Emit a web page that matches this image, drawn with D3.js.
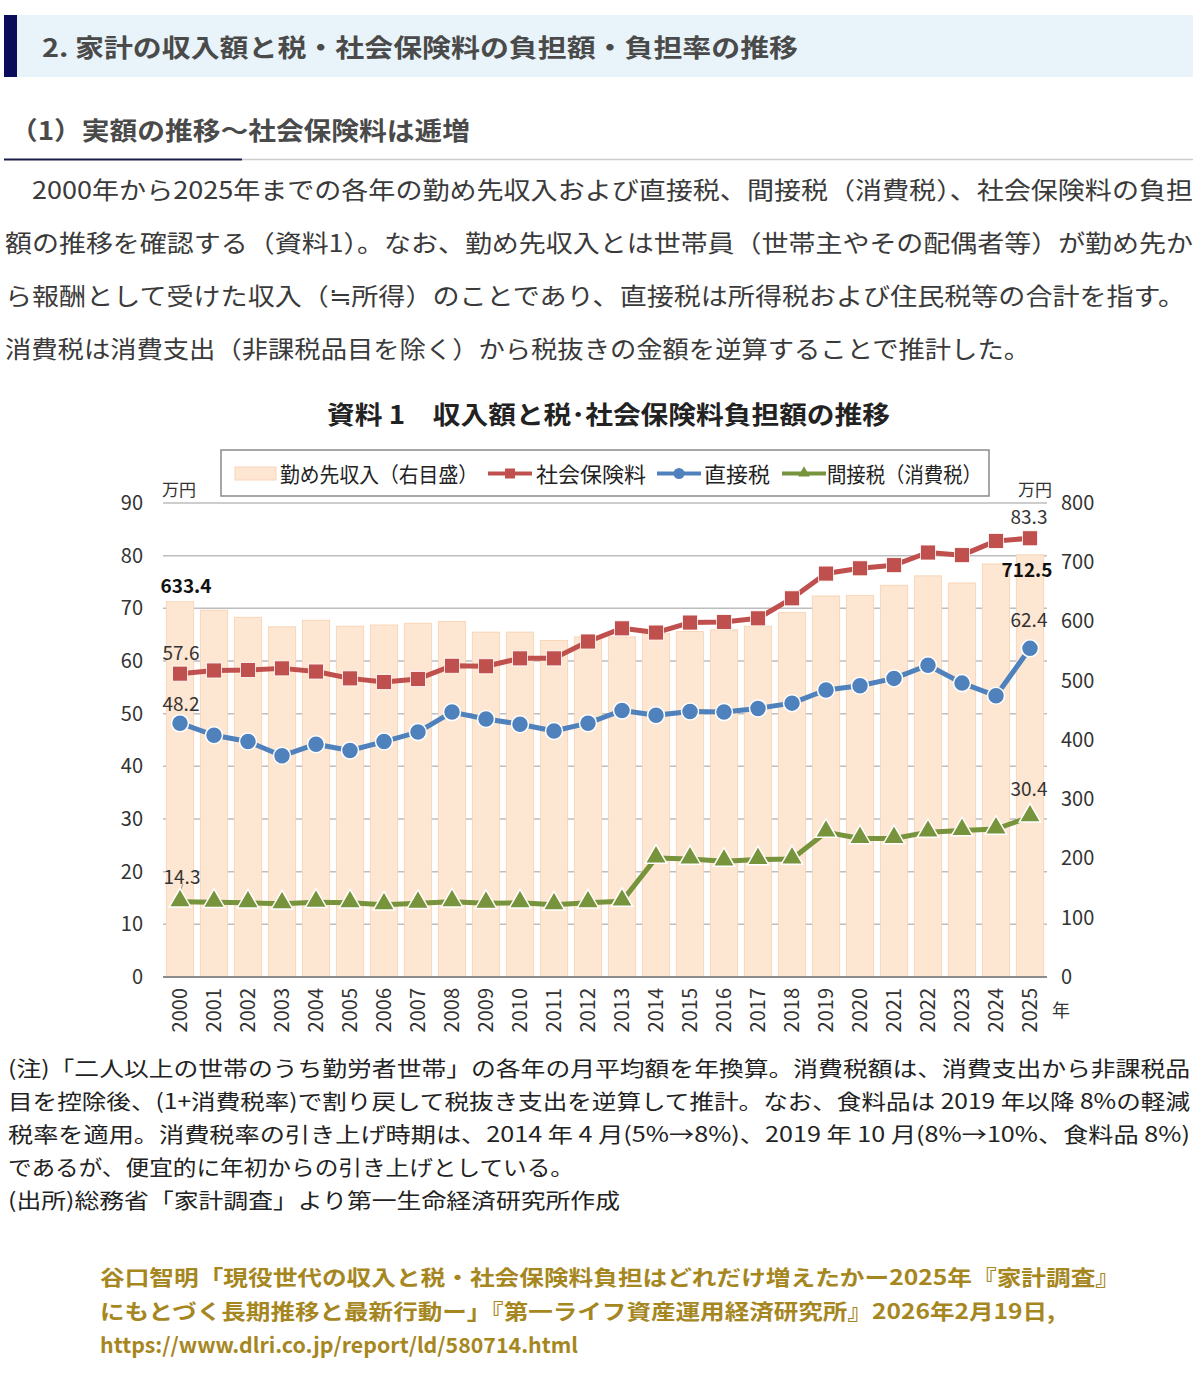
<!DOCTYPE html>
<html>
<head>
<meta charset="utf-8">
<script src="https://cdn.jsdelivr.net/npm/d3@7"></script>
<style>
  body { margin: 0; background: #fff; }
  svg { display: block; }
  text { font-family: "Noto Sans CJK JP", "Noto Sans", sans-serif; }
</style>
</head>
<body>
<div id="svg-container" style="width:1200px;height:1388px;"></div>
<script>
// 年
var years = [2000,2001,2002,2003,2004,2005,2006,2007,2008,2009,2010,2011,2012,
             2013,2014,2015,2016,2017,2018,2019,2020,2021,2022,2023,2024,2025];
// 勤め先収入（右目盛, 万円）
var income = [633.4,619,607,591,602,592,594,597,600,582,582,568,574,
              574,580,583,586,592,615,643,644,661,677,665,697,712.5];
// 社会保険料（万円）
var social = [57.6,58.2,58.3,58.6,58.0,56.7,56.0,56.6,59.1,59.0,60.5,60.5,63.7,
              66.2,65.4,67.3,67.4,68.1,71.9,76.6,77.6,78.2,80.6,80.1,82.8,83.3];
// 直接税（万円）
var direct = [48.2,45.9,44.7,42.0,44.2,43.0,44.7,46.5,50.3,49.0,48.0,46.7,48.2,
              50.6,49.7,50.4,50.3,51.0,52.0,54.5,55.3,56.7,59.2,55.8,53.4,62.4];
// 間接税（消費税, 万円）
var indirect = [14.3,14.2,14.1,13.9,14.2,14.1,13.7,14.0,14.3,14.0,14.1,13.7,14.1,
                14.4,22.6,22.4,22.0,22.3,22.4,27.5,26.3,26.3,27.5,27.8,28.1,30.4];

var leftTicks = [0,10,20,30,40,50,60,70,80,90];
var rightTicks = [0,100,200,300,400,500,600,700,800];

var bodyLines = [
  "\u30002000年から2025年までの各年の勤め先収入および直接税、間接税（消費税）、社会保険料の負担",
  "額の推移を確認する（資料1）。なお、勤め先収入とは世帯員（世帯主やその配偶者等）が勤め先か",
  "ら報酬として受けた収入（≒所得）のことであり、直接税は所得税および住民税等の合計を指す。",
  "消費税は消費支出（非課税品目を除く）から税抜きの金額を逆算することで推計した。"
];
var noteLines = [
  "(注)「二人以上の世帯のうち勤労者世帯」の各年の月平均額を年換算。消費税額は、消費支出から非課税品",
  "目を控除後、(1+消費税率)で割り戻して税抜き支出を逆算して推計。なお、食料品は 2019 年以降 8%の軽減",
  "税率を適用。消費税率の引き上げ時期は、2014 年 4 月(5%→8%)、2019 年 10 月(8%→10%、食料品 8%)",
  "であるが、便宜的に年初からの引き上げとしている。",
  "(出所)総務省「家計調査」より第一生命経済研究所作成"
];
var citeLines = [
  "谷口智明「現役世代の収入と税・社会保険料負担はどれだけ増えたかー2025年『家計調査』",
  "にもとづく長期推移と最新行動ー」『第一ライフ資産運用経済研究所』2026年2月19日,",
  "https://www.dlri.co.jp/report/ld/580714.html"
];

var width = 1200, height = 1388;
var svg = d3.select("#svg-container").append("svg")
            .attr("width", width).attr("height", height);

// ---- page header ----
svg.append("rect").attr("x", 4).attr("y", 15).attr("width", 1189).attr("height", 62).attr("fill", "#e8f4f9");
svg.append("rect").attr("x", 4).attr("y", 15).attr("width", 13).attr("height", 62).attr("fill", "#0b0b5c");
svg.append("text").attr("x", 42).attr("y", 57)
   .attr("font-size", 25).attr("font-weight", "bold").attr("fill", "#4a4a4a")
   .attr("textLength", 756).attr("lengthAdjust", "spacingAndGlyphs")
   .text("2. 家計の収入額と税・社会保険料の負担額・負担率の推移");

svg.append("text").attr("x", 10).attr("y", 140)
   .attr("font-size", 25).attr("font-weight", "bold").attr("fill", "#4a4a4a")
   .attr("textLength", 460).attr("lengthAdjust", "spacingAndGlyphs")
   .text("（1）実額の推移〜社会保険料は逓増");
svg.append("line").attr("x1", 242).attr("x2", 1193).attr("y1", 159.5).attr("y2", 159.5)
   .attr("stroke", "#cccccc").attr("stroke-width", 1.5);
svg.append("line").attr("x1", 4).attr("x2", 242).attr("y1", 159.5).attr("y2", 159.5)
   .attr("stroke", "#1c1c4a").attr("stroke-width", 2);

var bodyLen = [1188, 1188, 1180, 1025];
svg.selectAll(".body").data(bodyLines).enter().append("text")
   .attr("class", "body")
   .attr("x", 5)
   .attr("y", function(d, i) { return 199 + i * 53; })
   .attr("font-size", 24).attr("fill", "#3a3a3a")
   .attr("textLength", function(d, i) { return bodyLen[i]; })
   .attr("lengthAdjust", "spacingAndGlyphs")
   .text(function(d) { return d; });

// ---- chart ----
var plotLeft = 163, plotRight = 1047, plotTop = 503, plotBottom = 977;

svg.append("text").attr("x", 327).attr("y", 424)
   .attr("font-size", 25).attr("font-weight", "bold").attr("fill", "#222")
   .attr("textLength", 563).attr("lengthAdjust", "spacingAndGlyphs")
   .text("資料 1\u3000収入額と税･社会保険料負担額の推移");

var scaleX = d3.scaleBand().domain(years).range([plotLeft, plotRight])
               .paddingInner(0.2).paddingOuter(0.1);
var scaleY = d3.scaleLinear().domain([0, 90]).range([plotBottom, plotTop]);
var scaleY2 = d3.scaleLinear().domain([0, 800]).range([plotBottom, plotTop]);
var cx = function(i) { return scaleX(years[i]) + scaleX.bandwidth() / 2; };

// gridlines
svg.append("g").selectAll("line").data(leftTicks.filter(function(t) { return t > 0; }))
   .enter().append("line")
   .attr("x1", plotLeft).attr("x2", plotRight)
   .attr("y1", function(d) { return scaleY(d); }).attr("y2", function(d) { return scaleY(d); })
   .attr("stroke", "#bdbdbd").attr("stroke-width", 1.5);

// bars
svg.append("g").selectAll("rect").data(income).enter().append("rect")
   .attr("x", function(d, i) { return scaleX(years[i]); })
   .attr("width", scaleX.bandwidth())
   .attr("y", function(d) { return scaleY2(d); })
   .attr("height", function(d) { return plotBottom - scaleY2(d); })
   .attr("fill", "#fde6d2").attr("stroke", "#f8d6b8").attr("stroke-width", 1);

// baseline
svg.append("line").attr("x1", plotLeft).attr("x2", plotRight)
   .attr("y1", plotBottom).attr("y2", plotBottom)
   .attr("stroke", "#8c8c8c").attr("stroke-width", 2);

// left axis
var axisL = svg.append("g").attr("transform", "translate(" + (plotLeft - 20) + ",0)")
   .call(d3.axisLeft(scaleY).tickValues(leftTicks).tickSize(0).tickPadding(0));
axisL.select(".domain").remove();
axisL.selectAll("text").attr("font-size", 20).attr("fill", "#333")
     .attr("font-family", "DejaVu Sans");

// right axis
var axisR = svg.append("g").attr("transform", "translate(" + (plotRight + 14) + ",0)")
   .call(d3.axisRight(scaleY2).tickValues(rightTicks).tickSize(0).tickPadding(0));
axisR.select(".domain").remove();
axisR.selectAll("text").attr("font-size", 20).attr("fill", "#333")
     .attr("font-family", "DejaVu Sans");

// x axis
var axisX = svg.append("g").attr("transform", "translate(0," + plotBottom + ")")
   .call(d3.axisBottom(scaleX).tickSize(0).tickPadding(0));
axisX.select(".domain").remove();
axisX.selectAll("text")
     .attr("font-size", 20).attr("fill", "#333").attr("font-family", "DejaVu Sans")
     .attr("text-anchor", "end").attr("dy", "0.35em")
     .attr("transform", "translate(0,11) rotate(-90)")
     .attr("x", 0).attr("y", 0);

svg.append("text").attr("x", 162).attr("y", 496).attr("font-size", 17).attr("fill", "#333").text("万円");
svg.append("text").attr("x", 1018).attr("y", 496).attr("font-size", 17).attr("fill", "#333").text("万円");
svg.append("text").attr("x", 1052).attr("y", 1017).attr("font-size", 18).attr("fill", "#333").text("年");

// lines
var series = [
  { data: social, color: "#c0504d", marker: "square" },
  { data: direct, color: "#4f81bd", marker: "circle" },
  { data: indirect, color: "#77933c", marker: "triangle" }
];
var lineGen = function(scale) {
  return d3.line().x(function(d, i) { return cx(i); }).y(function(d) { return scale(d); });
};
series.forEach(function(s) {
  svg.append("path").datum(s.data)
     .attr("fill", "none").attr("stroke", s.color).attr("stroke-width", 5)
     .attr("stroke-linejoin", "round").attr("d", lineGen(scaleY));
});

// leader lines for labels
svg.append("line").attr("x1", cx(0)).attr("x2", cx(0) + 3)
   .attr("y1", scaleY(indirect[0]) - 10).attr("y2", 884)
   .attr("stroke", "#999").attr("stroke-width", 1);
svg.append("line").attr("x1", cx(25)).attr("x2", cx(25))
   .attr("y1", scaleY(indirect[25]) - 10).attr("y2", 804)
   .attr("stroke", "#999").attr("stroke-width", 1);

series.forEach(function(s) {
  var g = svg.append("g");
  if (s.marker === "square") {
    g.selectAll("rect").data(s.data).enter().append("rect")
     .attr("x", function(d, i) { return cx(i) - 7.5; })
     .attr("y", function(d) { return scaleY(d) - 7.5; })
     .attr("width", 15).attr("height", 15)
     .attr("fill", s.color).attr("stroke", "#fff").attr("stroke-width", 0.8);
  } else if (s.marker === "circle") {
    g.selectAll("circle").data(s.data).enter().append("circle")
     .attr("cx", function(d, i) { return cx(i); })
     .attr("cy", function(d) { return scaleY(d); })
     .attr("r", 8.5)
     .attr("fill", s.color).attr("stroke", "#fff").attr("stroke-width", 1.5);
  } else {
    var tri = d3.symbol().type(d3.symbolTriangle).size(200);
    g.selectAll("path").data(s.data).enter().append("path")
     .attr("d", tri)
     .attr("transform", function(d, i) { return "translate(" + cx(i) + "," + (scaleY(d) - 1) + ")"; })
     .attr("fill", s.color).attr("stroke", "#fff").attr("stroke-width", 1.5);
  }
});

// data labels
var labels = [
  { t: "633.4", x: cx(0) + 6, y: scaleY2(income[0]) - 9, bold: true },
  { t: "57.6", x: cx(0) + 1, y: scaleY(social[0]) - 14 },
  { t: "48.2", x: cx(0) + 1, y: scaleY(direct[0]) - 12 },
  { t: "14.3", x: cx(0) + 2, y: scaleY(indirect[0]) - 18 },
  { t: "83.3", x: cx(25) - 1, y: scaleY(social[25]) - 14 },
  { t: "712.5", x: cx(25) - 3, y: scaleY2(income[25]) + 22, bold: true },
  { t: "62.4", x: cx(25) - 1, y: scaleY(direct[25]) - 21 },
  { t: "30.4", x: cx(25) - 1, y: scaleY(indirect[25]) - 21 }
];
svg.append("g").selectAll("text").data(labels).enter().append("text")
   .attr("x", function(d) { return d.x; }).attr("y", function(d) { return d.y; })
   .attr("text-anchor", "middle")
   .attr("font-family", "DejaVu Sans").attr("font-size", 19)
   .attr("font-weight", function(d) { return d.bold ? "bold" : "normal"; })
   .attr("fill", function(d) { return d.bold ? "#111" : "#333"; })
   .text(function(d) { return d.t; });

// legend
var legend = svg.append("g");
legend.append("rect").attr("x", 221).attr("y", 450).attr("width", 768).attr("height", 46)
      .attr("fill", "#fff").attr("stroke", "#8a8a8a").attr("stroke-width", 1.5);
legend.append("rect").attr("x", 235).attr("y", 467).attr("width", 41).attr("height", 13)
      .attr("fill", "#fde6d2").attr("stroke", "#f8d6b8");
var legendItems = [
  { x: 488, color: "#c0504d", marker: "square", text: "社会保険料", tx: 536, len: 110 },
  { x: 657, color: "#4f81bd", marker: "circle", text: "直接税", tx: 704, len: 66 },
  { x: 782, color: "#77933c", marker: "triangle", text: "間接税（消費税）", tx: 827, len: 155 }
];
legend.append("text").attr("x", 280).attr("y", 482).attr("font-size", 21).attr("fill", "#222")
      .attr("textLength", 198).attr("lengthAdjust", "spacingAndGlyphs")
      .text("勤め先収入（右目盛）");
legendItems.forEach(function(it) {
  var mx = it.x + 22;
  legend.append("line").attr("x1", it.x).attr("x2", it.x + 44).attr("y1", 473.5).attr("y2", 473.5)
        .attr("stroke", it.color).attr("stroke-width", 4);
  if (it.marker === "square") {
    legend.append("rect").attr("x", mx - 5).attr("y", 468.5).attr("width", 10).attr("height", 10).attr("fill", it.color);
  } else if (it.marker === "circle") {
    legend.append("circle").attr("cx", mx).attr("cy", 473.5).attr("r", 5.5).attr("fill", it.color);
  } else {
    legend.append("path").attr("d", d3.symbol().type(d3.symbolTriangle).size(60))
          .attr("transform", "translate(" + mx + ",473)").attr("fill", it.color);
  }
  legend.append("text").attr("x", it.tx).attr("y", 482).attr("font-size", 21).attr("fill", "#222")
        .attr("textLength", it.len).attr("lengthAdjust", "spacingAndGlyphs")
        .text(it.text);
});

// ---- notes ----
var noteLen = [1182, 1182, 1182, 566, 612];
svg.selectAll(".note").data(noteLines).enter().append("text")
   .attr("class", "note")
   .attr("x", 8).attr("y", function(d, i) { return 1076 + i * 33; })
   .attr("font-size", 21).attr("fill", "#222")
   .attr("textLength", function(d, i) { return noteLen[i]; })
   .attr("lengthAdjust", "spacingAndGlyphs")
   .text(function(d) { return d; });

// ---- citation ----
var citeLen = [1020, 955, 478];
svg.selectAll(".cite").data(citeLines).enter().append("text")
   .attr("class", "cite")
   .attr("x", 100).attr("y", function(d, i) { return 1285 + i * 34; })
   .attr("font-size", 21).attr("font-weight", "bold").attr("fill", "#a6871f")
   .attr("textLength", function(d, i) { return citeLen[i]; })
   .attr("lengthAdjust", "spacingAndGlyphs")
   .text(function(d) { return d; });
</script>
</body>
</html>
